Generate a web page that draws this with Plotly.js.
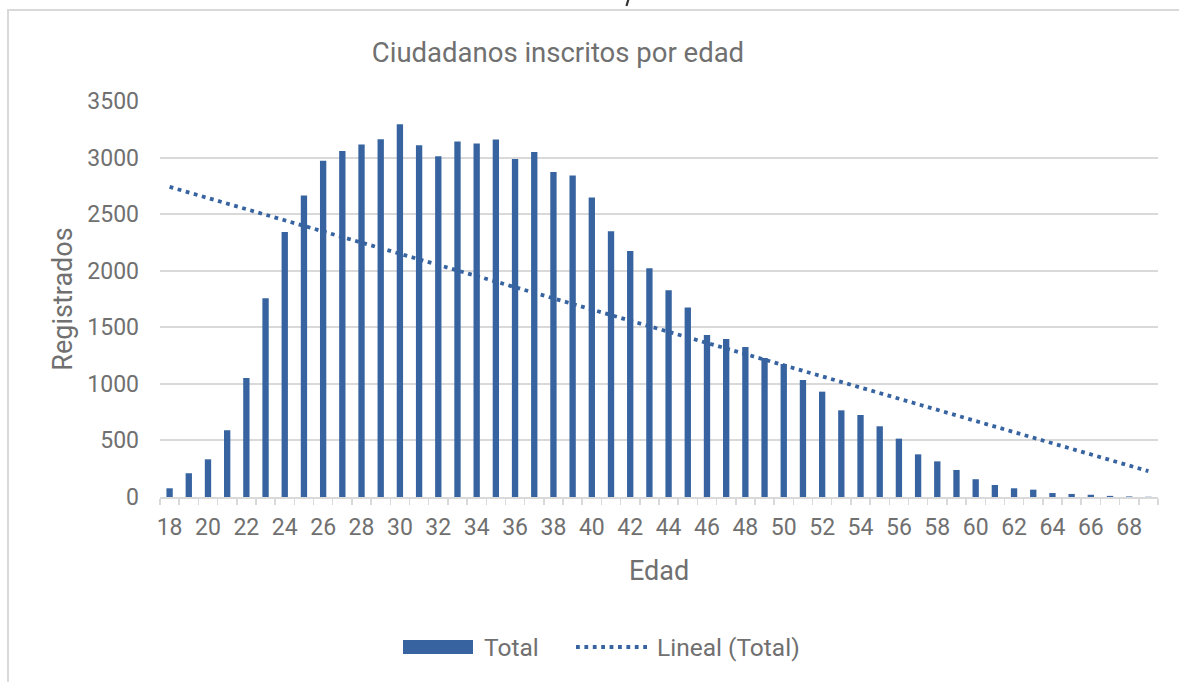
<!DOCTYPE html>
<html>
<head>
<meta charset="utf-8">
<script src="https://cdn.plot.ly/plotly-3.0.1.min.js"></script>
<style>
  html, body { margin: 0; padding: 0; background: #ffffff; overflow: hidden; width: 1179px; height: 682px; }
  #wrap { position: relative; width: 1179px; height: 682px; overflow: hidden; }
  #chart { width: 1179px; height: 682px; }
  #frame { position: absolute; left: 7px; top: 8.5px; width: 1300px; height: 800px;
           border-top: 2px solid #d9d9d9; border-left: 2px solid #d9d9d9; pointer-events: none; z-index: 5; }
</style>
</head>
<body>
<div id="wrap">
  <div id="chart"></div>
  <div id="frame"></div>
</div>
<script>
// ---- data ----
const ages = [18,19,20,21,22,23,24,25,26,27,28,29,30,31,32,33,34,35,36,37,38,39,40,41,42,43,
              44,45,46,47,48,49,50,51,52,53,54,55,56,57,58,59,60,61,62,63,64,65,66,67,68,69];
const totals = [77,210,333,590,1052,1757,2343,2664,2971,3059,3115,3162,3295,3109,3012,3142,3124,3159,
                2988,3050,2873,2841,2646,2349,2175,2022,1827,1674,1432,1397,1326,1229,1176,1034,931,766,
                725,625,516,377,315,239,157,106,77,65,35,27,20,10,5,2];
const tickLabels = [18,20,22,24,26,28,30,32,34,36,38,40,42,44,46,48,50,52,54,56,58,60,62,64,66,68];
const yTicks = [0,500,1000,1500,2000,2500,3000,3500];

const seriesName = "Total";
const trendName = "Lineal (Total)";
const chartTitle = "Ciudadanos inscritos por edad";
const xTitle = "Edad";
const yTitle = "Registrados";

// ---- linear trend (least squares over category index, as Excel does) ----
const n = totals.length;
const idx = totals.map((_, i) => i + 1);
const mx = idx.reduce((a, b) => a + b, 0) / n;
const my = totals.reduce((a, b) => a + b, 0) / n;
let sxy = 0, sxx = 0;
for (let i = 0; i < n; i++) { sxy += (idx[i] - mx) * (totals[i] - my); sxx += (idx[i] - mx) ** 2; }
const slope = sxy / sxx, intercept = my - slope * mx;
const trend = idx.map(i => intercept + slope * i);

// ---- styling ----
const FONT = "Roboto, 'Open Sans', sans-serif";
const TXT = "#707070";
const BLUE = "#3764a0";
const GRID = "#d9d9d9";

// plot area in pixels (for decorations outside the plot)
const L = 160, R = 1158, T = 101, B = 497;
const px = x => (x - L) / (R - L);
const py = y => (B - y) / (B - T);

const traces = [
  {
    type: "bar", x: ages, y: totals, name: seriesName, width: 0.33,
    marker: { color: BLUE }, showlegend: false, hoverinfo: "x+y"
  },
  {
    type: "scatter", mode: "lines", x: ages, y: trend, name: trendName,
    line: { color: BLUE, width: 3.8, dash: "3.8px,4.6px" }, showlegend: false
  }
];

const layout = {
  width: 1179, height: 682,
  margin: { l: L, r: 1179 - R, t: T, b: 682 - B },
  paper_bgcolor: "#ffffff", plot_bgcolor: "#ffffff",
  font: { family: FONT, color: TXT, size: 24 },
  title: {
    text: chartTitle, font: { family: FONT, size: 27.5, color: TXT },
    x: 558 / 1179, xanchor: "center", xref: "container",
    y: 1 - 52 / 682, yanchor: "middle", yref: "container"
  },
  xaxis: {
    type: "linear", range: [17.5, 69.5],
    tickmode: "array", tickvals: tickLabels, ticktext: tickLabels.map(String),
    ticks: "", showgrid: false, zeroline: false, ticklabelstandoff: 8,
    showline: true, linecolor: GRID, linewidth: 2,
    tickfont: { family: FONT, size: 23, color: TXT },
    minor: { tickmode: "linear", tick0: 17.5, dtick: 1, ticks: "outside", ticklen: 6, tickcolor: GRID, tickwidth: 1.5, showgrid: false },
    title: { text: xTitle, font: { family: FONT, size: 27, color: TXT }, standoff: 22 }
  },
  yaxis: {
    range: [0, 3500], tickmode: "array", tickvals: yTicks, ticktext: yTicks.map(String),
    showgrid: true, gridcolor: GRID, gridwidth: 2, zeroline: false, showline: false,
    ticks: "", ticklabelstandoff: 20,
    tickfont: { family: FONT, size: 23, color: TXT },
    title: { text: yTitle, font: { family: FONT, size: 27, color: TXT }, standoff: 6 }
  },
  shapes: [
    // small glyph fragment from the text above the chart
    { type: "line", xref: "paper", yref: "paper", x0: px(628.5), x1: px(626.5), y0: py(-1), y1: py(6),
      line: { color: "#333333", width: 2.2 } },
    // legend swatches
    { type: "rect", xref: "paper", yref: "paper", x0: px(403), x1: px(473), y0: py(640), y1: py(654),
      line: { width: 0 }, fillcolor: BLUE },
    { type: "line", xref: "paper", yref: "paper", x0: px(576), x1: px(650), y0: py(647), y1: py(647),
      line: { color: BLUE, width: 3.8, dash: "3.8px,4.6px" } }
  ],
  annotations: [
    { text: seriesName, xref: "paper", yref: "paper", x: px(482), y: py(647), xanchor: "left", yanchor: "middle",
      showarrow: false, font: { family: FONT, size: 24.5, color: TXT } },
    { text: trendName, xref: "paper", yref: "paper", x: px(655), y: py(647), xanchor: "left", yanchor: "middle",
      showarrow: false, font: { family: FONT, size: 24.5, color: TXT } }
  ],
  showlegend: false
};

Plotly.newPlot("chart", traces, layout, { displayModeBar: false, staticPlot: true });
</script>
</body>
</html>
